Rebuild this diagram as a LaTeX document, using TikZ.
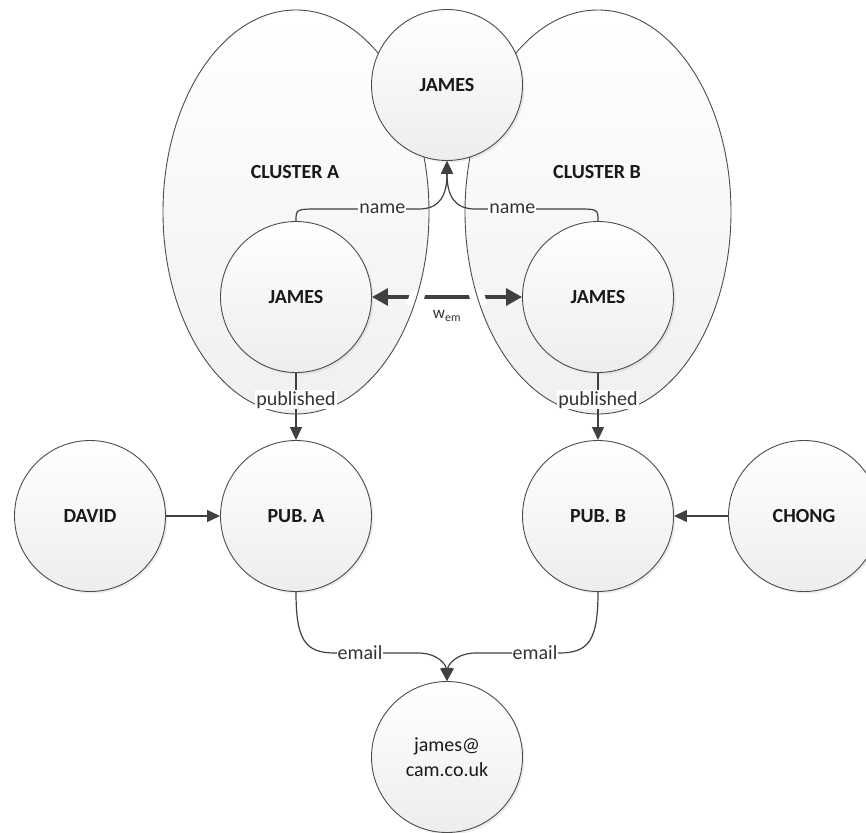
\documentclass[tikz,border=0pt]{standalone}
\usepackage{fontspec}
\setmainfont{Carlito}
\usetikzlibrary{arrows.meta,shadows}
\begin{document}
\begin{tikzpicture}[x=1pt,y=-1pt,
  ent/.style={circle, draw=black!70, line width=0.9pt, top color=white, bottom color=black!7,
    minimum size=151pt, inner sep=0pt, font=\fontsize{20}{24}\selectfont\bfseries, text=black!90,
    align=center, drop shadow={opacity=0.15, shadow xshift=2pt, shadow yshift=-2pt}},
  mailent/.style={ent, font=\fontsize{20}{25}\selectfont},
  clus/.style={draw=black!70, line width=0.9pt, top color=white, bottom color=black!6},
  conn/.style={draw=black!75, line width=1.2pt, -{Triangle[length=13pt,width=12pt]}},
  wem/.style={draw=black!75, line width=3.2pt, {Triangle[length=16pt,width=17pt]}-{Triangle[length=16pt,width=17pt]}},
  elab/.style={fill=white, inner sep=1pt, font=\fontsize{20}{22}\selectfont, text=black!80},
  clab/.style={font=\fontsize{20}{22}\selectfont\bfseries, text=black!90}
]
\useasboundingbox (0,0) rectangle (866,832);
% clusters
\path[clus] (296,212) ellipse [x radius=133pt, y radius=202pt];
\path[clus] (598,212) ellipse [x radius=133pt, y radius=202pt];
\node[clab] (cla) at (295,172) {CLUSTER A};
\node[clab] (clb) at (597,172) {CLUSTER B};
% entities
\node[ent] (top) at (447,85) {JAMES};
\node[ent] (jA) at (296,297) {JAMES};
\node[ent] (jB) at (598,297) {JAMES};
\node[ent] (pubA) at (296,516) {PUB. A};
\node[ent] (pubB) at (598,516) {PUB. B};
\node[ent] (david) at (90,516) {DAVID};
\node[ent] (chong) at (804,516) {CHONG};
\node[mailent] (mail) at (447,757) {james@\\cam.co.uk};
% name connectors
\draw[conn] (jA.north) .. controls (296,209) .. (320,209)
  -- node[elab,pos=0.63]{name} (419,209) .. controls (440,209) and (447,195) .. (top.south);
\draw[conn] (jB.north) .. controls (598,209) .. (576,209)
  -- node[elab,pos=0.63]{name} (475,209) .. controls (454,209) and (447,195) .. (top.south);
% w_em
\draw[wem] (jA) -- (jB);
\begin{scope}
  \clip (395,290) rectangle (500,304);
  \draw[white, line width=15pt] (296,212) ellipse [x radius=133pt, y radius=202pt];
  \draw[white, line width=15pt] (598,212) ellipse [x radius=133pt, y radius=202pt];
  \draw[black!70, line width=0.9pt] (296,212) ellipse [x radius=133pt, y radius=202pt];
  \draw[black!70, line width=0.9pt] (598,212) ellipse [x radius=133pt, y radius=202pt];
\end{scope}
\node[font=\fontsize{17}{20}\selectfont, text=black!80] (wlab) at (447,316) {w\textsubscript{em}};
% published
\draw[conn] (jA.south) -- node[elab,pos=0.4]{published} (pubA.north);
\draw[conn] (jB.south) -- node[elab,pos=0.4]{published} (pubB.north);
% authors
\draw[conn] (david) -- (pubA);
\draw[conn] (chong) -- (pubB);
% email
\draw[conn] (pubA.south) .. controls (296,640) and (305,653) .. (335,653)
  -- node[elab]{email} (385,653) -- (418,653) .. controls (438,653) and (446,665) .. (mail.north);
\draw[conn] (pubB.south) .. controls (598,640) and (589,653) .. (559,653)
  -- node[elab]{email} (511,653) -- (476,653) .. controls (456,653) and (448,665) .. (mail.north);
\end{tikzpicture}
\end{document}
